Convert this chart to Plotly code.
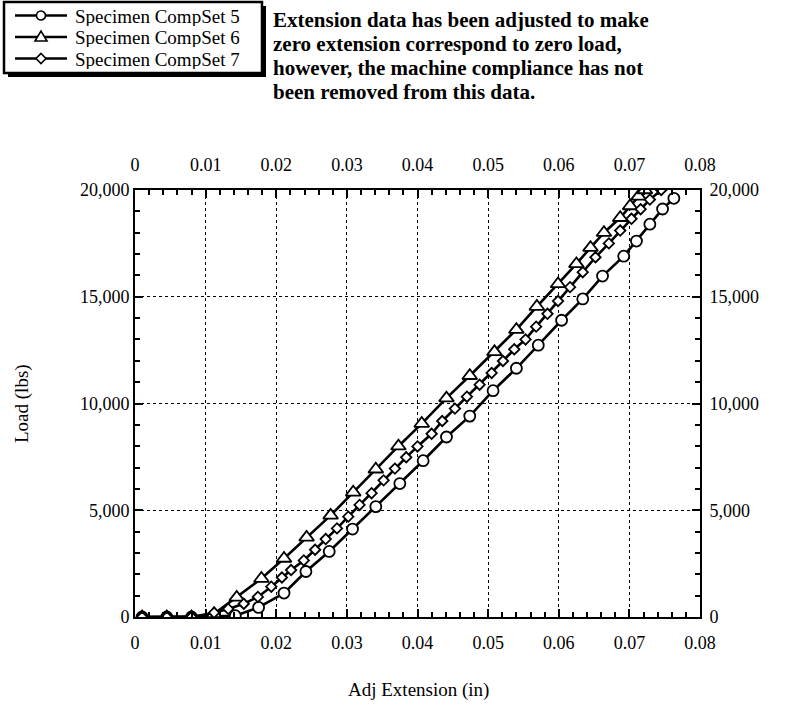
import plotly.graph_objects as go

# ---- data ----
s5_ext = [0.001, 0.0045, 0.008, 0.0112, 0.0142, 0.0175, 0.0211, 0.0242, 0.0275, 0.0308, 0.0341,
          0.0375, 0.0408, 0.0441, 0.0474, 0.0507, 0.054, 0.0571, 0.0604, 0.0634, 0.0662, 0.0692,
          0.071, 0.0729, 0.0747, 0.0763]
s5_load = [0, 0, 0, 30, 60, 450, 1120, 2130, 3070, 4120, 5170,
           6250, 7320, 8430, 9410, 10600, 11650, 12730, 13900, 14900, 15970, 16900,
           17610, 18400, 19110, 19610]

s6_ext = [0.001, 0.0045, 0.008, 0.0112, 0.0144, 0.0179, 0.0211, 0.0243, 0.0277, 0.0309, 0.0341,
          0.0373, 0.0406, 0.0441, 0.0474, 0.0509, 0.054, 0.0569, 0.0599, 0.0625, 0.0645, 0.0664,
          0.0687, 0.0701, 0.0713, 0.0722]
s6_load = [0, 0, 0, 150, 920, 1800, 2740, 3730, 4760, 5840, 6920,
           8000, 9060, 10250, 11300, 12420, 13460, 14540, 15600, 16540, 17300, 18000,
           18700, 19250, 19700, 20000]

s7_ext = [0.001, 0.0045, 0.008, 0.0112, 0.0132, 0.0154, 0.0174, 0.0193, 0.0208, 0.0221, 0.0239,
          0.0255, 0.027, 0.0286, 0.0302, 0.0318, 0.0335, 0.0352, 0.0368, 0.0384, 0.04, 0.042,
          0.0435, 0.0453, 0.047, 0.0488, 0.0505, 0.0521, 0.0537, 0.0553, 0.0568, 0.0584, 0.0599,
          0.0616, 0.0634, 0.0652, 0.0671, 0.0687, 0.0703, 0.0716, 0.0729, 0.0745]
s7_load = [0, 0, 0, 200, 380, 620, 940, 1420, 1850, 2200, 2650,
           3150, 3650, 4150, 4700, 5250, 5800, 6400, 6950, 7480, 7990, 8580,
           9180, 9760, 10320, 10880, 11430, 11990, 12540, 13000, 13600, 14200, 14800,
           15450, 16150, 16850, 17500, 18100, 18650, 19100, 19550, 20000]

series_names = ["Specimen CompSet 5", "Specimen CompSet 6", "Specimen CompSet 7"]
x_ticks = [0, 0.01, 0.02, 0.03, 0.04, 0.05, 0.06, 0.07, 0.08]
x_tick_text = ["0", "0.01", "0.02", "0.03", "0.04", "0.05", "0.06", "0.07", "0.08"]
y_ticks = [0, 5000, 10000, 15000, 20000]
y_tick_text = ["0", "5,000", "10,000", "15,000", "20,000"]
x_title = "Adj Extension (in)"
y_title = "Load (lbs)"

note_lines = ["Extension data has been adjusted to make",
              "zero extension correspond to zero load,",
              "however, the machine compliance has not",
              "been removed from this data."]

FONT = "Liberation Serif"
W, H = 789, 717
PX0, PX1, PY0, PY1 = 135, 700, 190, 617   # plot area on screen
L, T = PX0, PY0
PW, PH = PX1 - PX0, PY1 - PY0
R, B = W - L - PW, H - T - PH


def fx(X):
    return (X - PX0) / PW


def fy(Y):
    return (PY1 - Y) / PH


fig = go.Figure()
styles = [("circle", 11), ("triangle-up", 13), ("diamond", 8)]
for name, xs, ys, (sym, sz) in zip(series_names, [s5_ext, s6_ext, s7_ext],
                                   [s5_load, s6_load, s7_load], styles):
    fig.add_trace(go.Scatter(
        x=xs, y=ys, name=name, mode="lines+markers", showlegend=False,
        line=dict(color="black", width=2.6),
        marker=dict(symbol=sym, size=sz, color="white",
                    line=dict(color="black", width=1.8)),
    ))

# invisible trace to activate secondary axes
fig.add_trace(go.Scatter(x=[0], y=[0], xaxis="x2", yaxis="y2", mode="markers",
                         marker=dict(opacity=0), showlegend=False, hoverinfo="skip"))

axis_common = dict(
    showline=True, linecolor="black", linewidth=2,
    ticks="inside", tickcolor="black", tickwidth=1.5, ticklen=8,
    tickfont=dict(family=FONT, size=18, color="black"),
    zeroline=False,
)
fig.update_layout(
    width=W, height=H,
    margin=dict(l=L, r=R, t=T, b=B, autoexpand=False),
    paper_bgcolor="white", plot_bgcolor="white",
    font=dict(family=FONT, size=18, color="black"),
    showlegend=False,
    xaxis=dict(range=[0, 0.08], tickvals=x_ticks, ticktext=x_tick_text,
               showgrid=True, gridcolor="black", griddash="dot", gridwidth=1,
               ticklabelstandoff=8,
               minor=dict(dtick=0.002, ticks="inside", ticklen=5, tickcolor="black", showgrid=False),
               **axis_common),
    xaxis2=dict(range=[0, 0.08], tickvals=x_ticks, ticktext=x_tick_text, overlaying="x",
                side="top", anchor="y", showgrid=False, ticklabelstandoff=10,
                minor=dict(dtick=0.002, ticks="inside", ticklen=5, tickcolor="black"),
                **axis_common),
    yaxis=dict(range=[0, 20000], tickvals=y_ticks, ticktext=y_tick_text,
               showgrid=True, gridcolor="black", griddash="dot", gridwidth=1,
               minor=dict(dtick=1000, ticks="inside", ticklen=5, tickcolor="black", showgrid=False),
               **axis_common),
    yaxis2=dict(range=[0, 20000], tickvals=y_ticks, ticktext=y_tick_text, overlaying="y",
                side="right", anchor="x", showgrid=False, ticklabelstandoff=4,
                minor=dict(dtick=1000, ticks="inside", ticklen=5, tickcolor="black"),
                **axis_common),
)

# axis titles
fig.add_annotation(xref="paper", yref="paper", x=fx(418), y=fy(690), text=x_title,
                   showarrow=False, xanchor="center", yanchor="middle",
                   font=dict(family=FONT, size=19, color="black"))
fig.add_annotation(xref="paper", yref="paper", x=fx(22), y=fy(404), text=y_title,
                   showarrow=False, xanchor="center", yanchor="middle", textangle=-90,
                   font=dict(family=FONT, size=19, color="black"))

# note text
for i, line in enumerate(note_lines):
    fig.add_annotation(xref="paper", yref="paper", x=fx(271), y=fy(20 + 24 * i), text=line,
                       showarrow=False, xanchor="left", yanchor="middle", height=22,
                       font=dict(family=FONT, size=21, color="black", weight="bold"))

# hand-drawn legend box with drop shadow
shapes = []
shapes.append(dict(type="rect", xref="paper", yref="paper", layer="above",
                   x0=fx(8), x1=fx(266), y0=fy(6), y1=fy(77),
                   fillcolor="black", line=dict(width=0)))
shapes.append(dict(type="rect", xref="paper", yref="paper", layer="above",
                   x0=fx(4), x1=fx(262), y0=fy(2), y1=fy(73),
                   fillcolor="white", line=dict(color="black", width=2.5)))
rows = [15.5, 37, 58.5]
mx = 41
for i, (name, (sym, sz)) in enumerate(zip(series_names, styles)):
    yc = rows[i]
    shapes.append(dict(type="line", xref="paper", yref="paper", layer="above",
                       x0=fx(15), x1=fx(67), y0=fy(yc), y1=fy(yc),
                       line=dict(color="black", width=2.6)))
    if sym == "circle":
        r = 4.5
        shapes.append(dict(type="circle", xref="paper", yref="paper", layer="above",
                           x0=fx(mx - r), x1=fx(mx + r), y0=fy(yc + r), y1=fy(yc - r),
                           fillcolor="white", line=dict(color="black", width=1.6)))
    elif sym == "triangle-up":
        p = [(mx - 6, yc + 4), (mx + 6, yc + 4), (mx, yc - 6)]
        path = "M {},{} L {},{} L {},{} Z".format(*[v for X, Y in p for v in (fx(X), fy(Y))])
        shapes.append(dict(type="path", xref="paper", yref="paper", layer="above", path=path,
                           fillcolor="white", line=dict(color="black", width=1.6)))
    else:
        p = [(mx, yc - 5), (mx + 5, yc), (mx, yc + 5), (mx - 5, yc)]
        path = "M {},{} L {},{} L {},{} L {},{} Z".format(*[v for X, Y in p for v in (fx(X), fy(Y))])
        shapes.append(dict(type="path", xref="paper", yref="paper", layer="above", path=path,
                           fillcolor="white", line=dict(color="black", width=1.6)))
    fig.add_annotation(xref="paper", yref="paper", x=fx(73), y=fy(yc), text=name,
                       showarrow=False, xanchor="left", yanchor="middle", height=20,
                       font=dict(family=FONT, size=19, color="black"))
fig.update_layout(shapes=shapes)

fig.write_html("out.html", config={"displayModeBar": False},
               post_script="document.body.style.margin='0';")
